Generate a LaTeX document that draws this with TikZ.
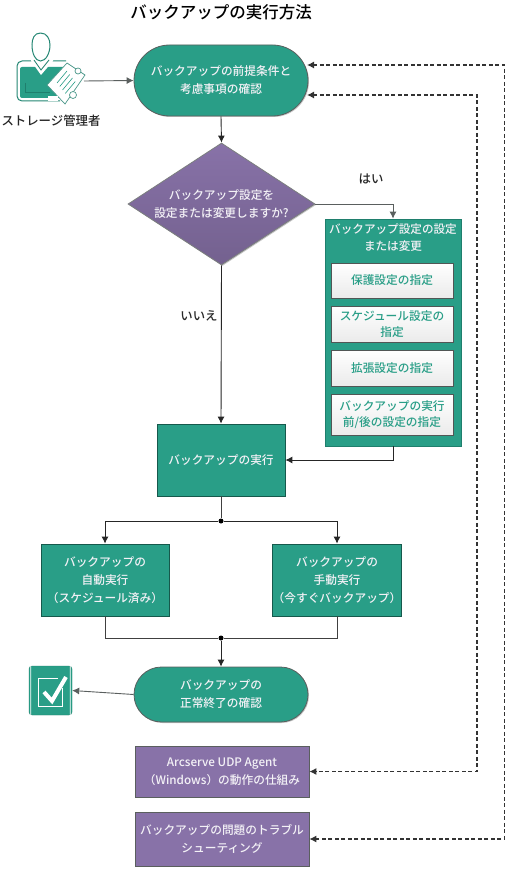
\documentclass[tikz,border=0pt]{standalone}
\usepackage{fontspec}
\setmainfont{Noto Sans CJK JP Medium}
\usepackage{xcolor}
\usetikzlibrary{arrows.meta, positioning, shapes.geometric, shapes.misc, shadows}
\definecolor{tealfill}{HTML}{299E87}
\definecolor{tealdark}{HTML}{1F7F6D}
\definecolor{violetfill}{HTML}{8872A8}
\definecolor{edgegray}{HTML}{5A5F5E}
\begin{document}
\begin{tikzpicture}[
        x=1pt,
        y=-1pt,
        softshadow/.style={drop shadow={shadow xshift=1pt,shadow yshift=-1pt,opacity=.22,fill=black}},
        bodytext/.style={font=\fontsize{11.7}{18}\selectfont,align=center,text=white!90!violetfill,inner sep=0pt},
        terminal/.style={rounded rectangle,draw=edgegray,line width=.8pt,fill=tealfill,softshadow,bodytext},
        tealbox/.style={draw=tealdark!70!black,line width=.8pt,fill=tealfill,softshadow,bodytext,minimum width=128pt,minimum height=72pt},
        violetbox/.style={draw=edgegray,line width=.8pt,fill=violetfill,softshadow,bodytext,minimum width=174pt},
        decision/.style={diamond,aspect=1.533,draw=edgegray!80,line width=.8pt,top color=violetfill,bottom color=violetfill!85!black,softshadow,bodytext,minimum width=187pt,minimum height=122pt},
        panelbox/.style={draw=tealdark,line width=.8pt,fill=tealfill,softshadow,minimum width=136pt,minimum height=227pt},
        taskbox/.style={draw=edgegray!90!black,line width=1pt,top color=white,bottom color=black!8,minimum width=122pt,bodytext,text=tealfill,font=\fontsize{11.7}{16.5}\selectfont},
        sidelabel/.style={font=\fontsize{12.4}{15}\selectfont,text=black!85,inner sep=0pt},
        flow/.style={-{Latex[length=7pt,width=7pt]},line width=.9pt,draw=black!85},
        plainflow/.style={line width=.9pt,draw=black!75},
        backlink/.style={{Latex[length=7pt,width=7pt]}-{Latex[length=7pt,width=7pt]},dash pattern=on 4pt off 2.5pt,line width=1.1pt,draw=black!80},
        joint/.style={circle,fill=black,inner sep=0pt,minimum size=5pt}
    ]
        \useasboundingbox (0,0) rectangle (506,869);
        \fill[white] (0,0) rectangle (506,869);
        \node[font=\fontsize{16.5}{20}\selectfont,inner sep=0pt] (title) at (221,12) {バックアップの実行方法};
        % flow nodes
        \node[terminal,minimum width=174pt,minimum height=71pt] (prereq) at (221,80.5) {バックアップの前提条件と\\考慮事項の確認};
        \node[decision] (ask) at (221.5,204) {バックアップ設定を\\設定または変更しますか?};
        \node[panelbox] (settings) at (393,332.5) {};
        \node[bodytext,font=\fontsize{11.6}{17}\selectfont] (settingstitle) at (393,237.5) {バックアップ設定の設定\\または変更};
        \node[taskbox,minimum height=35pt] (protect) at (392,280.5) {保護設定の指定};
        \node[taskbox,minimum height=36pt] (schedule) at (392,324) {スケジュール設定の\\指定};
        \node[taskbox,minimum height=36pt] (advanced) at (392,368) {拡張設定の指定};
        \node[taskbox,minimum height=41pt] (prepost) at (392,414.5) {バックアップの実行\\前/後の設定の指定};
        \node[tealbox] (run) at (221,460) {バックアップの実行};
        \node[tealbox] (auto) at (105,580) {バックアップの\\自動実行\\（スケジュール済み）};
        \node[tealbox] (manual) at (337,580) {バックアップの\\手動実行\\（今すぐバックアップ）};
        \node[terminal,minimum width=174pt,minimum height=55pt] (verify) at (221,694.5) {バックアップの\\正常終了の確認};
        \node[violetbox,minimum height=51pt] (howto) at (222,771.5) {Arcserve UDP Agent\\（Windows）の動作の仕組み};
        \node[violetbox,minimum height=54pt] (trouble) at (222,839) {バックアップの問題のトラブル\\シューティング};
        \node[joint] (split) at (221,521) {};
        \node[joint] (merge) at (221,638) {};
        \node[sidelabel] (yes) at (371,179) {はい};
        \node[sidelabel] (no) at (199,316) {いいえ};
        \node[sidelabel] (admin) at (51,121) {ストレージ管理者};
        % storage admin figure
        \coordinate (adminhand) at (84,81);
        \draw[tealfill!85!black,line width=1pt,rounded corners=5pt] (66,61) -- (17,61) -- (17,101) -- (60,101);
        \fill[tealfill,rounded corners=2pt] (20,67) rectangle (70,98);
        \draw[tealdark,line width=1pt] (25,83) -- (25,93) -- (50,93);
        \fill[white] (31,61) -- (41,75) -- (53,61) -- (53,56) -- (31,56) -- cycle;
        \draw[tealdark,line width=.8pt] (34,60) -- (41,70) -- (49,60);
        \draw[tealfill!85!black,line width=1pt,fill=white] (40.5,33) .. controls (34,33) and (32,39) .. (32,45)
            .. controls (32,53) and (35,61) .. (40.5,61) .. controls (46,61) and (50,53) .. (50,45)
            .. controls (50,39) and (47,33) .. (40.5,33);
        \draw[tealdark!80,fill=white,line width=.7pt] (47,85) -- (67,63) -- (85,75) -- (65,104) -- cycle;
        \foreach \lineshift in {0,5,10,15}
            \draw[tealfill,line width=.6pt] (57+\lineshift*.55,83+\lineshift*.7) -- (67+\lineshift*.55,71+\lineshift*.7);
        \draw[tealdark!80,fill=white,line width=.7pt] (78,71) circle (3pt);
        \draw[tealdark!80,fill=white,line width=.7pt] (73,95) circle (3.5pt);
        \fill[white] (48,96) rectangle (58,101);
        % finish icon
        \node[draw=tealdark,fill=tealfill,rounded corners=3pt,minimum width=43pt,minimum height=49pt,inner sep=0pt] (finish) at (50.5,690.5) {};
        \draw[white,line width=.8pt,rounded corners=2pt] ([shift={(2,-2)}]finish.north west) rectangle ([shift={(-2,2)}]finish.south east);
        \draw[white,line width=1.8pt] (58,678.5) -- (38.5,678.5) -- (38.5,706.5) -- (62.5,706.5) -- (62.5,688);
        \draw[white,line width=4pt] (44,692) -- (52,701) -- (66,677);
        % connectors
        \draw[flow,draw=edgegray] (adminhand) -- (prereq.west);
        \draw[flow] (prereq.south) -- (ask.north);
        \draw[flow] (ask.south) -- (run.north);
        \draw[flow,draw=edgegray] (ask.east) -| (settings.north);
        \draw[flow] (settings.south) |- (run.east);
        \draw[plainflow] (run.south) -- (split);
        \draw[flow] (split) -| (auto.north);
        \draw[flow] (split) -| (manual.north);
        \draw[plainflow] (auto.south) |- (merge);
        \draw[plainflow] (manual.south) |- (merge);
        \draw[flow] (merge) -- (verify.north);
        \draw[flow,draw=edgegray] (verify.west) -- (finish.east);
        % return links
        \coordinate (entryupper) at (307,65);
        \coordinate (entrylower) at (307,95);
        \coordinate (innerrail) at (477,400);
        \coordinate (outerrail) at (504.5,400);
        \draw[backlink] (entrylower) -| (innerrail) |- (howto.east);
        \draw[backlink] (entryupper) -| (outerrail) |- (trouble.east);
    \end{tikzpicture}
\end{document}
